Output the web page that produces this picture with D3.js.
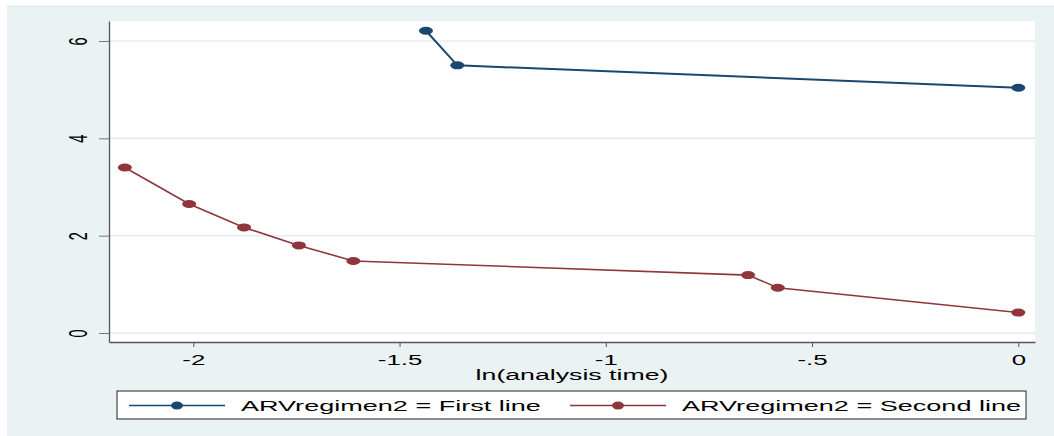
<!DOCTYPE html>
<html>
<head>
<meta charset="utf-8">
<script src="https://cdn.jsdelivr.net/npm/d3@7"></script>
<style>
  body { margin: 0; background: #fff; }
  text { font-family: "Liberation Sans", Arial, sans-serif; fill: #000; }
</style>
</head>
<body>
<div id="chart"></div>
<script>
// data
const firstX = [-1.436, -1.360, 0];
const firstY = [6.21, 5.50, 5.04];
const secondX = [-2.166, -2.010, -1.877, -1.744, -1.612, -0.655, -0.583, 0];
const secondY = [3.40, 2.65, 2.17, 1.80, 1.48, 1.19, 0.93, 0.42];
const xTicks = [-2, -1.5, -1, -0.5, 0];
const xTickLabels = ["-2", "-1.5", "-1", "-.5", "0"];
const yTicks = [0, 2, 4, 6];
const seriesNames = ["ARVregimen2 = First line", "ARVregimen2 = Second line"];

function drawChart() {
  const w = 1054, h = 436;
  const left = 109, right = 1035, top = 21, bottom = 342;
  const sx = 1.78; // the picture is stretched sideways
  const colors = ["#1a476f", "#90353b"];

  const svg = d3.select("#chart").append("svg")
    .attr("width", w).attr("height", h);

  // backgrounds
  svg.append("rect").attr("x", 7).attr("y", 5)
    .attr("width", w - 7).attr("height", h - 5).attr("fill", "#eaf2f3");
  svg.append("rect").attr("x", left).attr("y", top)
    .attr("width", right - left).attr("height", bottom - top).attr("fill", "#fff");

  const xScale = d3.scaleLinear().domain([-2.2044, 0.0405]).range([left, right]);
  const yScale = d3.scaleLinear().domain([-0.185, 6.411]).range([bottom, top]);

  // gridlines
  svg.append("g").selectAll("line").data(yTicks).join("line")
    .attr("x1", left).attr("x2", right)
    .attr("y1", d => yScale(d)).attr("y2", d => yScale(d))
    .attr("stroke", "#e4eef0").attr("stroke-width", 1.5);

  // X axis
  const xAxis = d3.axisBottom(xScale).tickValues(xTicks)
    .tickFormat((d, i) => xTickLabels[i]).tickSizeInner(5).tickSizeOuter(0);
  const gx = svg.append("g").attr("transform", `translate(0, ${bottom})`).call(xAxis);
  gx.select(".domain").attr("stroke", "#555").attr("stroke-width", 1.3);
  gx.selectAll(".tick line").attr("stroke", "#555");
  gx.selectAll(".tick text")
    .attr("y", 0).attr("dy", 0)
    .attr("font-size", 14.5)
    .attr("transform", `translate(0, 23) scale(${sx}, 1)`);

  // Y axis
  const yAxis = d3.axisLeft(yScale).tickValues(yTicks)
    .tickFormat(d3.format("d")).tickSizeInner(10).tickSizeOuter(0);
  const gy = svg.append("g").attr("transform", `translate(${left}, 0)`).call(yAxis);
  gy.select(".domain").attr("stroke", "#555").attr("stroke-width", 1.3);
  gy.selectAll(".tick line").attr("stroke", "#777");
  gy.selectAll(".tick text")
    .attr("x", 0).attr("y", 0).attr("dy", 0)
    .attr("text-anchor", "middle")
    .attr("font-size", 14.5)
    .attr("transform", `translate(-22, 0) scale(${sx}, 1) rotate(-90)`);

  // axis title
  svg.append("text")
    .attr("text-anchor", "middle").attr("font-size", 15)
    .attr("transform", `translate(${(left + right) / 2}, 380) scale(${sx}, 1)`)
    .text("ln(analysis time)");

  // lines and markers
  const series = [
    { xs: firstX, ys: firstY, color: colors[0], width: 2 },
    { xs: secondX, ys: secondY, color: colors[1], width: 1.6 }
  ];
  const line = d3.line().x(d => xScale(d[0])).y(d => yScale(d[1]));
  series.forEach(s => {
    const pts = s.xs.map((x, i) => [x, s.ys[i]]);
    svg.append("path").datum(pts)
      .attr("d", line).attr("fill", "none")
      .attr("stroke", s.color).attr("stroke-width", s.width);
    svg.append("g").selectAll("ellipse").data(pts).join("ellipse")
      .attr("cx", d => xScale(d[0])).attr("cy", d => yScale(d[1]))
      .attr("rx", 7).attr("ry", 4).attr("fill", s.color);
  });

  // legend
  const lg = svg.append("g");
  lg.append("rect").attr("x", 117).attr("y", 391)
    .attr("width", 909).attr("height", 28)
    .attr("fill", "#fff").attr("stroke", "#222").attr("stroke-width", 1);
  const legendX = [129, 570];
  seriesNames.forEach((name, i) => {
    const x0 = legendX[i];
    lg.append("line").attr("x1", x0).attr("x2", x0 + 96)
      .attr("y1", 405.5).attr("y2", 405.5)
      .attr("stroke", colors[i]).attr("stroke-width", 1.5);
    lg.append("ellipse").attr("cx", x0 + 48).attr("cy", 405.5)
      .attr("rx", 6).attr("ry", 4).attr("fill", colors[i]);
    lg.append("text").attr("font-size", 15.2)
      .attr("transform", `translate(${x0 + 112}, 411) scale(${sx}, 1)`)
      .text(name);
  });
}

document.addEventListener("DOMContentLoaded", () => {
  drawChart();
});
</script>
</body>
</html>
